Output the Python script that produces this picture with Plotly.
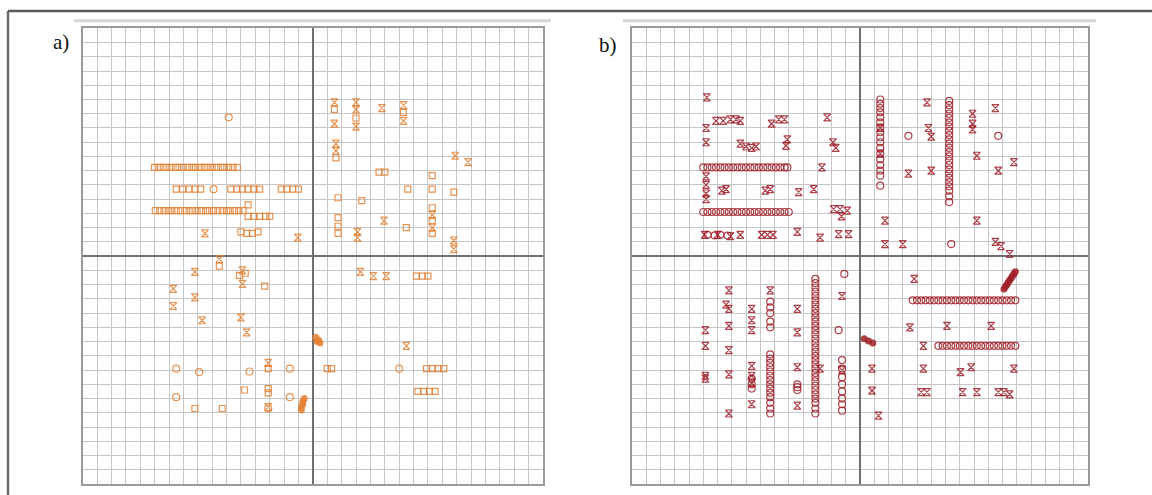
import plotly.graph_objects as go

W, H = 1152, 495

# ---------------- Panel a (orange) ----------------
a_circ_x = [-5.85, -6.9, -9.5, -7.9, -1.6, 6.0, -9.5, -1.6, -4.4, -3.1]
a_circ_y = [9.75, 4.7, -7.9, -8.15, -7.9, -7.9, -9.9, -9.9, -8.1, -10.7]

a_sq_x = [-11.0, -10.7, -10.4, -10.15, -9.85, -9.55, -9.3, -9.0, -8.7, -8.4, -8.15, -7.85, -7.55, -7.3,
          -7.0, -6.7, -6.4, -6.15, -5.85, -5.55, -5.25,
          -9.5, -9.05, -8.6, -8.2, -7.8, -5.7, -5.3, -4.9, -4.5, -4.1, -3.7, -2.2, -1.8, -1.4, -1.0,
          -10.95, -10.65, -10.35, -10.05, -9.8, -9.5, -9.2, -8.9, -8.6, -8.35, -8.05, -7.75, -7.45, -7.2,
          -6.9, -6.6, -6.3, -6.0, -5.75, -5.45, -5.15, -4.85, -4.5, -4.1, -3.7, -3.3, -3.0, -4.5,
          -5.0, -4.6, -4.2, -3.8,
          1.5, 3.0, 6.3, 1.6, 4.6, 5.0, 8.3, 8.3, 6.6, 9.8, 1.75, 3.4, 8.3, 8.3, 8.3, 1.75, 1.75, 1.75, 6.5,
          -6.5, -4.7, -5.1, -3.35, -3.1, -4.75, -3.1, -3.1, -8.2, -6.3,
          7.2, 7.6, 8.0, 1.0, 1.3, 7.9, 8.3, 8.7, 9.1, 7.3, 7.7, 8.1, 8.5]
a_sq_y = [6.23, 6.23, 6.23, 6.23, 6.23, 6.23, 6.23, 6.23, 6.23, 6.23, 6.23, 6.23, 6.23, 6.23,
          6.23, 6.23, 6.23, 6.23, 6.23, 6.23, 6.23,
          4.7, 4.7, 4.7, 4.7, 4.7, 4.7, 4.7, 4.7, 4.7, 4.7, 4.7, 4.7, 4.7, 4.7, 4.7,
          3.2, 3.2, 3.2, 3.2, 3.2, 3.2, 3.2, 3.2, 3.2, 3.2, 3.2, 3.2, 3.2, 3.2,
          3.2, 3.2, 3.2, 3.2, 3.2, 3.2, 3.2, 3.2, 2.8, 2.8, 2.8, 2.8, 2.8, 3.6,
          1.7, 1.6, 1.6, 1.7,
          10.3, 9.7, 10.1, 6.9, 5.9, 5.9, 5.65, 4.7, 4.7, 4.5, 4.1, 3.9, 3.4, 2.5, 1.6, 2.7, 2.1, 1.6, 2.0,
          -0.7, -1.2, -1.35, -2.1, -7.9, -9.4, -9.3, -9.6, -10.7, -10.7,
          -1.4, -1.4, -1.4, -7.9, -7.9, -7.9, -7.9, -7.9, -7.9, -9.5, -9.5, -9.5, -9.5]

a_hg_x = [-7.5, -1.05, 1.5, 1.5, 3.0, 3.0, 3.0, 4.8, 6.3, 6.3, 1.6, 1.6, 9.9, 10.8, 3.1, 3.1, 4.95,
          8.3, 8.3, 9.8, 9.8,
          -6.5, -8.2, -4.9, -4.9, -9.7, -8.2, -9.7, -7.7, -5.0, -4.6, -3.1, -3.1,
          3.3, 4.2, 5.1, 6.5]
a_hg_y = [1.6, 1.3, 10.8, 9.3, 10.8, 10.3, 9.1, 10.4, 10.6, 9.5, 7.9, 7.4, 7.05, 6.6, 1.7, 1.3, 2.5,
          2.9, 2.0, 1.1, 0.5,
          -0.2, -1.1, -1.0, -1.95, -2.3, -2.9, -3.5, -4.5, -4.3, -5.35, -7.5, -10.6,
          -1.1, -1.4, -1.4, -6.3]

a_fill_x = [0.2, 0.4, 0.5, 0.3, -0.6, -0.7, -0.7, -0.8, -0.8]
a_fill_y = [-5.7, -5.9, -6.1, -6.0, -10.0, -10.2, -10.4, -10.6, -10.8]

# ---------------- Panel b (dark red) ----------------
b_circ_x = [-11.0, -10.7, -10.4, -10.1, -9.8, -9.5, -9.2, -8.9, -8.6, -8.3, -8.0, -7.7, -7.4, -7.1,
            -6.8, -6.5, -6.2, -5.9, -5.6, -5.3, -5.1,
            -11.0, -10.7, -10.4, -10.1, -9.8, -9.5, -9.2, -8.9, -8.6, -8.3, -8.0, -7.7, -7.4, -7.1,
            -6.8, -6.5, -6.2, -5.9, -5.6, -5.3, -5.0,
            -10.7, -10.2, -9.8, -9.3,
            1.42, 1.42, 1.42, 1.42, 1.42, 1.42, 1.42, 1.42, 1.42, 1.42, 1.42, 1.42, 1.42, 1.42, 1.42, 1.42, 1.42,
            6.26, 6.26, 6.26, 6.26, 6.26, 6.26, 6.26, 6.26, 6.26, 6.26, 6.26, 6.26, 6.26, 6.26, 6.26, 6.26,
            6.26, 6.26, 6.26, 6.26, 6.26, 6.26, 6.26, 6.26,
            3.4, 9.7, 6.4,
            3.7, 4.0, 4.3, 4.6, 4.9, 5.2, 5.5, 5.8, 6.1, 6.4, 6.7, 7.0, 7.3, 7.6, 7.9, 8.2, 8.5, 8.8, 9.1,
            9.4, 9.7, 10.0, 10.3, 10.6, 10.9,
            5.5, 5.8, 6.1, 6.4, 6.7, 7.0, 7.3, 7.6, 7.9, 8.2, 8.5, 8.8, 9.1, 9.4, 9.7, 10.0, 10.3, 10.6, 10.9,
            -3.13, -3.13, -3.13, -3.13, -3.13, -3.13, -3.13, -3.13, -3.13, -3.13, -3.13, -3.13, -3.13, -3.13,
            -3.13, -3.13, -3.13, -3.13, -3.13, -3.13, -3.13, -3.13, -3.13, -3.13, -3.13, -3.13, -3.13, -3.13,
            -3.13, -3.13, -3.13, -3.13,
            -6.3, -6.3, -6.3, -6.3, -6.3, -6.3, -6.3, -6.3, -6.3, -6.3, -6.3, -6.3, -6.3, -6.3, -6.3, -6.3,
            -6.3, -6.3, -6.3,
            -1.1, -1.5, -1.26, -1.26, -1.26, -1.26, -1.26, -1.26, -1.26, -1.26,
            -4.4, -4.4, -4.4, -7.6, -7.6, -7.6]
b_circ_y = [6.23, 6.23, 6.23, 6.23, 6.23, 6.23, 6.23, 6.23, 6.23, 6.23, 6.23, 6.23, 6.23, 6.23,
            6.23, 6.23, 6.23, 6.23, 6.23, 6.23, 6.23,
            3.1, 3.1, 3.1, 3.1, 3.1, 3.1, 3.1, 3.1, 3.1, 3.1, 3.1, 3.1, 3.1, 3.1,
            3.1, 3.1, 3.1, 3.1, 3.1, 3.1, 3.1,
            1.5, 1.45, 1.5, 1.45,
            11.0, 10.7, 10.4, 10.1, 9.75, 9.4, 9.05, 8.7, 8.35, 8.0, 7.6, 7.2, 6.8, 6.4, 6.0, 5.65, 4.95,
            10.9, 10.6, 10.3, 10.0, 9.7, 9.4, 9.1, 8.8, 8.5, 8.2, 7.9, 7.6, 7.3, 7.0, 6.7, 6.4,
            6.1, 5.8, 5.5, 5.2, 4.9, 4.6, 4.2, 3.8,
            8.45, 8.45, 0.85,
            -3.1, -3.1, -3.1, -3.1, -3.1, -3.1, -3.1, -3.1, -3.1, -3.1, -3.1, -3.1, -3.1, -3.1, -3.1, -3.1,
            -3.1, -3.1, -3.1, -3.1, -3.1, -3.1, -3.1, -3.1, -3.1,
            -6.3, -6.3, -6.3, -6.3, -6.3, -6.3, -6.3, -6.3, -6.3, -6.3, -6.3, -6.3, -6.3, -6.3, -6.3, -6.3,
            -6.3, -6.3, -6.3,
            -1.6, -1.9, -2.2, -2.5, -2.8, -3.1, -3.4, -3.7, -4.0, -4.3, -4.6, -4.9, -5.2, -5.5, -5.8, -6.1,
            -6.4, -6.7, -7.0, -7.3, -7.6, -7.9, -8.2, -8.5, -8.8, -9.1, -9.4, -9.7, -10.0, -10.3, -10.7,
            -11.05,
            -3.2, -3.6, -4.0, -4.6, -5.0, -6.9, -7.2, -7.5, -7.8, -8.1, -8.4, -8.7, -9.0, -9.3, -9.6,
            -9.9, -10.3, -10.7, -11.05,
            -1.25, -5.2, -7.3, -7.9, -8.5, -9.0, -9.5, -10.0, -10.4, -10.85,
            -9.0, -9.2, -9.4, -8.6, -9.0, -9.3]

b_hg_x = [-10.75, -10.1, -9.6, -9.1, -8.7, -8.4, -10.8, -10.8, -8.4, -8.0, -7.6, -7.3, -6.2, -5.7,
          -5.3, -2.3, -5.1, -5.2, -1.9, -1.7, -2.67, -10.8, -10.8, -10.8, -10.8, -9.7, -9.4, -6.65,
          -6.3, -4.3, -3.25, -1.85, -1.4, -0.9, -1.3, -10.9, -10.0, -9.1, -8.4, -6.9, -6.5, -6.1,
          -4.4, -2.8, -1.5, -0.8,
          4.7, 7.9, 7.9, 7.9, 9.5, 4.8, 5.0, 8.2, 10.8, 9.7, 3.4, 5.0, 1.75, 8.2, 1.75, 3.0, 9.5,
          9.9, 10.5, 1.42, 1.42,
          3.8, 3.5, 6.1, 9.2, 4.45, 4.45, 7.05, 7.8, 10.8, 4.3, 4.7, 7.2, 8.2, 9.7, 10.1, 10.5, 0.84,
          0.84, 1.3,
          -1.26, -4.4, -4.4, -4.4, -4.4, -6.3, -7.6, -7.6, -7.6, -7.6, -7.6, -7.6, -7.6, -9.2, -9.4,
          -9.2, -9.2, -9.2, -9.2, -9.2, -10.85, -10.85, -10.85, -10.85, -2.8, -1.26]
b_hg_y = [11.15, 9.5, 9.5, 9.6, 9.6, 9.5, 9.0, 8.0, 7.9, 7.7, 7.6, 7.7, 9.3, 9.6,
          9.6, 9.75, 8.2, 7.75, 8.0, 7.6, 6.23, 5.6, 5.0, 4.4, 4.0, 4.6, 4.7, 4.6,
          4.7, 4.5, 4.7, 3.3, 3.3, 3.2, 2.8, 1.5, 1.5, 1.4, 1.5, 1.5, 1.5, 1.5,
          1.7, 1.3, 1.55, 1.55,
          10.8, 10.0, 9.3, 8.9, 10.4, 9.0, 8.4, 7.05, 6.6, 6.0, 5.8, 6.0, 2.5, 2.5, 0.85, 0.85, 1.0,
          0.7, 0.15, 9.0, 7.2,
          -1.6, -5.0, -4.9, -4.9, -6.3, -7.9, -8.15, -7.8, -7.9, -9.55, -9.55, -9.55, -9.55, -9.55,
          -9.55, -9.7, -7.9, -9.45, -11.2,
          -2.8, -3.7, -5.35, -7.8, -10.5, -2.4, -3.7, -4.5, -5.2, -7.7, -8.4, -8.9, -10.4, -2.4, -3.4,
          -3.7, -4.9, -6.6, -8.3, -11.05, -5.2, -6.3, -8.4, -8.6, -7.9, -8.0]

b_fill_x = [10.9, 10.8, 10.7, 10.6, 10.5, 10.4, 10.3, 10.2, 10.1, 0.3, 0.6, 0.9]
b_fill_y = [-1.1, -1.25, -1.4, -1.55, -1.7, -1.85, -2.0, -2.15, -2.3, -5.8, -5.95, -6.1]

panel_labels = ["a)", "b)"]

ORANGE = "rgba(228,128,50,0.85)"
RED = "rgba(160,30,40,0.85)"

fig = go.Figure()


def add_markers(xs, ys, symbol, size, color, xa, ya, lw=1.2):
    fig.add_trace(go.Scatter(x=xs, y=ys, mode="markers", xaxis=xa, yaxis=ya, hoverinfo="skip",
                             marker=dict(symbol=symbol, size=size, color=color, line=dict(width=lw))))


# panel a
add_markers(a_circ_x, a_circ_y, "circle-open", 7, ORANGE, "x", "y")
add_markers(a_sq_x, a_sq_y, "square-open", 6, ORANGE, "x", "y")
add_markers(a_hg_x, a_hg_y, "hourglass-open", 7, ORANGE, "x", "y")
add_markers(a_fill_x, a_fill_y, "circle", 7, ORANGE, "x", "y", lw=0)
# panel b
add_markers(b_circ_x, b_circ_y, "circle-open", 7, RED, "x2", "y2")
add_markers(b_hg_x, b_hg_y, "hourglass-open", 7, RED, "x2", "y2")
add_markers(b_fill_x, b_fill_y, "circle", 7, RED, "x2", "y2", lw=0)

ax_common = dict(range=[-16, 16], dtick=1, tick0=0, showticklabels=False, ticks="",
                 showgrid=True, gridcolor="#c6c6c6", gridwidth=1,
                 zeroline=True, zerolinecolor="#707070", zerolinewidth=1.5,
                 showline=True, linecolor="#9a9a9a", linewidth=2, mirror=True, fixedrange=True)

ytop = 1 - 28.3 / H
ybot = 1 - 484 / H
fig.update_layout(
    width=W, height=H, autosize=False,
    margin=dict(l=0, r=0, t=0, b=0),
    paper_bgcolor="white", plot_bgcolor="white",
    showlegend=False,
    xaxis=dict(domain=[82.7 / W, 543 / W], anchor="y", **ax_common),
    yaxis=dict(domain=[ybot, ytop], anchor="x", **ax_common),
    xaxis2=dict(domain=[632 / W, 1088 / W], anchor="y2", **ax_common),
    yaxis2=dict(domain=[ybot, ytop], anchor="x2", **ax_common),
    shapes=[
        dict(type="line", xref="paper", yref="paper", x0=8 / W, x1=1, y0=1 - 11 / H, y1=1 - 11 / H,
             line=dict(color="#5a5a5a", width=2.5)),
        dict(type="line", xref="paper", yref="paper", x0=8 / W, x1=8 / W, y0=0, y1=1 - 11 / H,
             line=dict(color="#6a6a6a", width=2.5)),
        dict(type="line", xref="paper", yref="paper", x0=74 / W, x1=551 / W, y0=1 - 20.7 / H, y1=1 - 20.7 / H,
             line=dict(color="#d6d6d6", width=3)),
        dict(type="line", xref="paper", yref="paper", x0=623 / W, x1=1096 / W, y0=1 - 20.7 / H, y1=1 - 20.7 / H,
             line=dict(color="#d6d6d6", width=3)),
    ],
    annotations=[
        dict(text=panel_labels[0], xref="paper", yref="paper", x=61 / W, y=1 - 42 / H, showarrow=False,
             xanchor="center", yanchor="middle",
             font=dict(family="Liberation Serif", size=21, color="#111")),
        dict(text=panel_labels[1], xref="paper", yref="paper", x=608 / W, y=1 - 45 / H, showarrow=False,
             xanchor="center", yanchor="middle",
             font=dict(family="Liberation Serif", size=21, color="#111")),
    ],
)

fig.write_html("out.html")
